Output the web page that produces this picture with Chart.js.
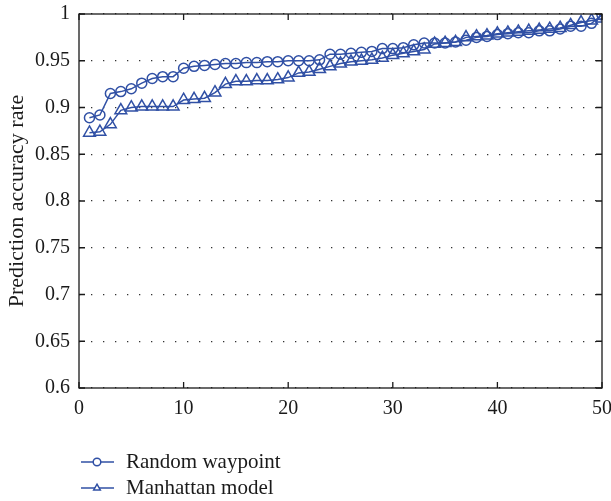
<!DOCTYPE html>
<html>
<head>
<meta charset="utf-8">
<script src="https://cdn.jsdelivr.net/npm/chart.js@4"></script>
<style>
  html, body { margin: 0; padding: 0; background: #fff; }
  #wrap { width: 611px; height: 501px; }
</style>
</head>
<body>
<div id="wrap"><canvas id="chart" width="611" height="501"></canvas></div>
<script>
// data
const runs = [1, 2, 3, 4, 5, 6, 7, 8, 9, 10, 11, 12, 13, 14, 15, 16, 17, 18, 19, 20,
    21, 22, 23, 24, 25, 26, 27, 28, 29, 30, 31, 32, 33, 34, 35, 36, 37, 38, 39, 40,
    41, 42, 43, 44, 45, 46, 47, 48, 49, 50];

const randomWaypoint = [0.889, 0.892, 0.915, 0.917, 0.920, 0.926, 0.931, 0.933, 0.933, 0.942,
    0.944, 0.945, 0.946, 0.947, 0.947, 0.948, 0.948, 0.949, 0.949, 0.950,
    0.950, 0.950, 0.951, 0.957, 0.957, 0.958, 0.959, 0.960, 0.963, 0.963,
    0.964, 0.967, 0.969, 0.969, 0.969, 0.970, 0.972, 0.975, 0.976, 0.978,
    0.979, 0.980, 0.980, 0.982, 0.982, 0.984, 0.987, 0.987, 0.990, 0.999];

const manhattan = [0.873, 0.874, 0.882, 0.897, 0.900, 0.901, 0.901, 0.901, 0.901, 0.908,
    0.909, 0.910, 0.916, 0.925, 0.928, 0.928, 0.929, 0.929, 0.930, 0.932,
    0.937, 0.938, 0.941, 0.944, 0.947, 0.949, 0.950, 0.951, 0.953, 0.956,
    0.958, 0.960, 0.962, 0.968, 0.969, 0.970, 0.975, 0.976, 0.977, 0.979,
    0.980, 0.981, 0.982, 0.983, 0.984, 0.985, 0.988, 0.991, 0.993, 0.995];

const seriesNames = ["Random waypoint", "Manhattan model"];
const yTickLabels = ["0.6", "0.65", "0.7", "0.75", "0.8", "0.85", "0.9", "0.95", "1"];
const xTickLabels = ["0", "10", "20", "30", "40", "50"];

const blue = "#3050a5";
const serif = "'Liberation Serif', 'DejaVu Serif', serif";

function toPoints(vals) {
    return runs.map((r, i) => ({ x: r, y: vals[i] }));
}

// box around plot with inward tick marks
const framePlugin = {
    id: "frame",
    afterDraw(chart) {
        const ctx = chart.ctx;
        const a = chart.chartArea;
        const xs = chart.scales.x, ys = chart.scales.y;
        ctx.save();
        ctx.strokeStyle = "#1a1a1a";
        ctx.lineWidth = 1.3;
        ctx.strokeRect(a.left, a.top, a.right - a.left, a.bottom - a.top);
        ctx.beginPath();
        xs.ticks.forEach(t => {
            let px = xs.getPixelForValue(t.value);
            ctx.moveTo(px, a.bottom); ctx.lineTo(px, a.bottom - 6);
            ctx.moveTo(px, a.top); ctx.lineTo(px, a.top + 6);
        });
        ys.ticks.forEach(t => {
            let py = ys.getPixelForValue(t.value);
            ctx.moveTo(a.left, py); ctx.lineTo(a.left + 6, py);
            ctx.moveTo(a.right, py); ctx.lineTo(a.right - 6, py);
        });
        ctx.stroke();
        ctx.restore();
    }
};

// legend below the plot, line + hollow marker like the original
const legendPlugin = {
    id: "bottomLegend",
    afterDraw(chart) {
        const ctx = chart.ctx;
        ctx.save();
        chart.data.datasets.forEach((ds, i) => {
            let y = 462 + i * 26;
            ctx.strokeStyle = ds.borderColor;
            ctx.lineWidth = 1.5;
            ctx.beginPath();
            ctx.moveTo(81, y); ctx.lineTo(114, y);
            ctx.stroke();
            ctx.fillStyle = "#fff";
            Chart.helpers.drawPoint(ctx, {
                pointStyle: ds.pointStyle,
                radius: 3.8,
                borderWidth: 1.5
            }, 97, y);
            ctx.fillStyle = "#1a1a1a";
            ctx.font = "21px " + serif;
            ctx.textBaseline = "middle";
            ctx.fillText(ds.label, 126, y);
        });
        ctx.restore();
    }
};

new Chart(document.getElementById("chart"), {
    type: "line",
    data: {
        datasets: [
            {
                label: seriesNames[0],
                data: toPoints(randomWaypoint),
                borderColor: blue,
                borderWidth: 1.5,
                pointStyle: "circle",
                pointRadius: 5,
                pointBorderWidth: 1.5,
                pointBackgroundColor: "rgba(0,0,0,0)",
                pointBorderColor: blue
            },
            {
                label: seriesNames[1],
                data: toPoints(manhattan),
                borderColor: blue,
                borderWidth: 1.5,
                pointStyle: "triangle",
                pointRadius: 6.8,
                pointBorderWidth: 1.5,
                pointBackgroundColor: "rgba(0,0,0,0)",
                pointBorderColor: blue
            }
        ]
    },
    options: {
        responsive: false,
        animation: false,
        layout: { padding: { top: 14, right: 9, left: 0, bottom: 0 } },
        plugins: {
            legend: { display: false },
            tooltip: { enabled: false }
        },
        scales: {
            x: {
                type: "linear",
                min: 0,
                max: 50,
                grid: { display: false, drawTicks: false },
                border: { display: false },
                ticks: {
                    stepSize: 10,
                    padding: 9,
                    color: "#1a1a1a",
                    font: { family: serif, size: 20 },
                    maxRotation: 0,
                    callback: (v) => xTickLabels[Math.round(v / 10)]
                },
                afterFit(s) {
                    s.height = 113;
                    s.paddingLeft = 0;
                    s.paddingRight = 0;
                }
            },
            y: {
                min: 0.6,
                max: 1,
                grid: { color: "#333", lineWidth: 1.2, drawTicks: false },
                border: { display: false, dash: [1.3, 10.7] },
                ticks: {
                    stepSize: 0.05,
                    padding: 9,
                    color: "#1a1a1a",
                    font: { family: serif, size: 20 },
                    callback: (v) => yTickLabels[Math.round((v - 0.6) / 0.05)]
                },
                title: {
                    display: true,
                    text: "Prediction accuracy rate",
                    color: "#1a1a1a",
                    font: { family: serif, size: 22 },
                    padding: { top: 4, bottom: 0 }
                },
                afterFit(s) {
                    s.width = 79;
                    s.paddingTop = 0;
                    s.paddingBottom = 0;
                }
            }
        }
    },
    plugins: [framePlugin, legendPlugin]
});
</script>
</body>
</html>
